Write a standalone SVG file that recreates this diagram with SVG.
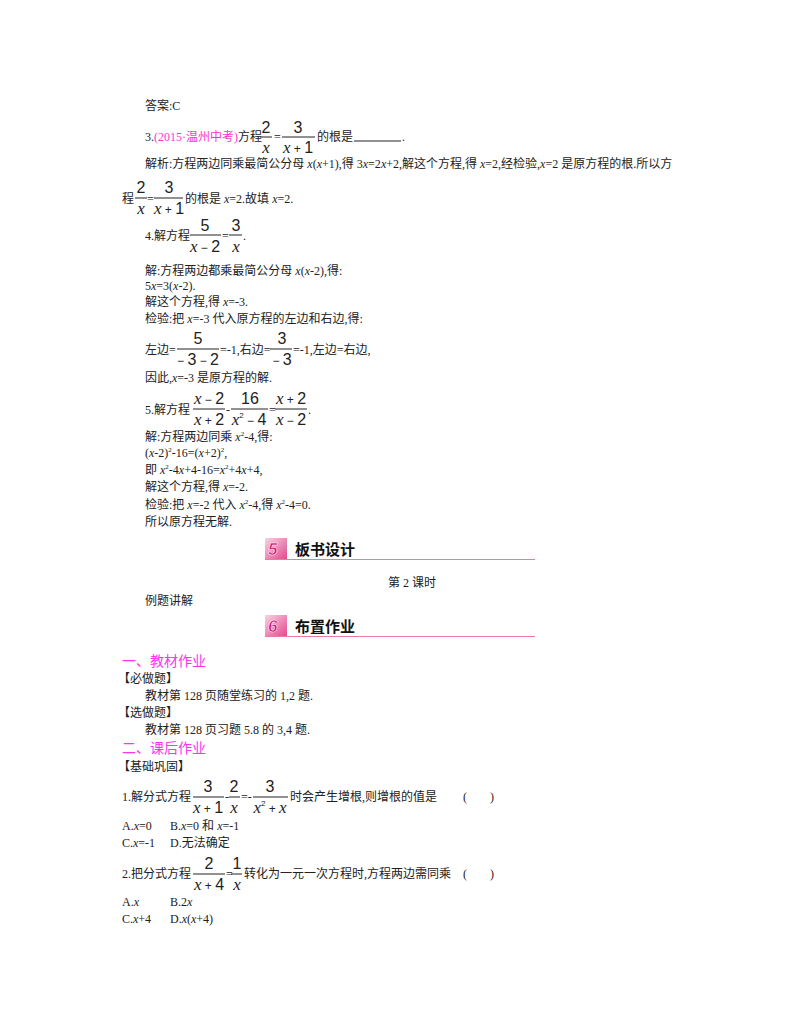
<svg xmlns="http://www.w3.org/2000/svg" width="800" height="1028" viewBox="0 0 800 1028">
<style>
text{font-family:"Liberation Serif","Noto Sans CJK SC",serif;font-size:12px;fill:#222}
.f{font-family:"Liberation Sans","Noto Sans CJK SC",sans-serif;font-size:16px}
.x{font-family:"Liberation Serif",serif;font-style:italic;font-size:17px}
.o{font-size:12px}
.m{fill:#ff33cc}
.h{font-family:"Noto Sans CJK SC",sans-serif;font-size:15px;font-weight:bold;fill:#111}
.s{font-family:"Noto Sans CJK SC",sans-serif;font-size:14px;fill:#ff33ee}
.n{font-family:"Liberation Sans",sans-serif;font-size:17px;font-weight:bold;font-style:italic;fill:#c8107a;stroke:#fff;stroke-width:0.5}
line.b{stroke:#222;stroke-width:1}
line.p{stroke:#e87aa8;stroke-width:1}
</style>
<defs>
<linearGradient id="g" x1="0" y1="0" x2="1" y2="1"><stop offset="0" stop-color="#fbd3e4"/><stop offset="1" stop-color="#e4488c"/></linearGradient>
</defs>
<rect width="800" height="1028" fill="#fff"/>
<g id="p1">
<text x="145" y="110">答案:C</text>
<text x="145" y="141">3.<tspan class="m">(2015·温州中考)</tspan>方程</text>
<text class="f" x="266" y="133" text-anchor="middle">2</text><line class="b" x1="260" y1="137" x2="272" y2="137"/><text class="f" x="266" y="153" text-anchor="middle"><tspan class="x">x</tspan></text>
<text x="274" y="141">=</text>
<text class="f" x="298" y="133" text-anchor="middle">3</text><line class="b" x1="282" y1="137" x2="315" y2="137"/><text class="f" x="298" y="153" text-anchor="middle"><tspan class="x">x</tspan><tspan class="o"> + </tspan>1</text>
<text x="317" y="141">的根是</text><line class="b" x1="354" y1="141" x2="401" y2="141"/><text x="402" y="141">.</text>
<text x="145" y="168">解析:方程两边同乘最简公分母 <tspan font-style="italic">x</tspan>(<tspan font-style="italic">x</tspan>+1),得 3<tspan font-style="italic">x</tspan>=2<tspan font-style="italic">x</tspan>+2,解这个方程,得 <tspan font-style="italic">x</tspan>=2,经检验,<tspan font-style="italic">x</tspan>=2 是原方程的根.所以方</text>
<text x="122" y="203">程</text>
<text class="f" x="141" y="193" text-anchor="middle">2</text><line class="b" x1="135" y1="198" x2="147" y2="198"/><text class="f" x="141" y="214" text-anchor="middle"><tspan class="x">x</tspan></text>
<text x="147" y="203">=</text>
<text class="f" x="169" y="193" text-anchor="middle">3</text><line class="b" x1="154" y1="198" x2="183" y2="198"/><text class="f" x="169" y="214" text-anchor="middle"><tspan class="x">x</tspan><tspan class="o"> + </tspan>1</text>
<text x="185" y="203">的根是 <tspan font-style="italic">x</tspan>=2.故填 <tspan font-style="italic">x</tspan>=2.</text>
</g>
<g id="p2">
<text x="145" y="240">4.解方程</text>
<text class="f" x="205" y="231" text-anchor="middle">5</text><line class="b" x1="190" y1="235" x2="221" y2="235"/><text class="f" x="205" y="252" text-anchor="middle"><tspan class="x">x</tspan><tspan class="o"> − </tspan>2</text>
<text x="222" y="240">=</text>
<text class="f" x="236" y="231" text-anchor="middle">3</text><line class="b" x1="229" y1="235" x2="242" y2="235"/><text class="f" x="236" y="252" text-anchor="middle"><tspan class="x">x</tspan></text>
<text x="243" y="240">.</text>
<text x="145" y="275">解:方程两边都乘最简公分母 <tspan font-style="italic">x</tspan>(<tspan font-style="italic">x</tspan>-2),得:</text>
<text x="145" y="290">5<tspan font-style="italic">x</tspan>=3(<tspan font-style="italic">x</tspan>-2).</text>
<text x="145" y="306">解这个方程,得 <tspan font-style="italic">x</tspan>=-3.</text>
<text x="145" y="323">检验:把 <tspan font-style="italic">x</tspan>=-3 代入原方程的左边和右边,得:</text>
<text x="145" y="354">左边=</text>
<text class="f" x="198" y="344" text-anchor="middle">5</text><line class="b" x1="177" y1="349" x2="219" y2="349"/><text class="f" x="198" y="365" text-anchor="middle"><tspan class="o">− </tspan>3<tspan class="o"> − </tspan>2</text>
<text x="220" y="354">=-1,右边=</text>
<text class="f" x="282" y="344" text-anchor="middle">3</text><line class="b" x1="270" y1="349" x2="292" y2="349"/><text class="f" x="282" y="365" text-anchor="middle"><tspan class="o">− </tspan>3</text>
<text x="293" y="354">=-1,左边=右边,</text>
<text x="145" y="382">因此,<tspan font-style="italic">x</tspan>=-3 是原方程的解.</text>
</g>
<g id="p3">
<text x="145" y="414">5.解方程</text>
<text class="f" x="209" y="404" text-anchor="middle"><tspan class="x">x</tspan><tspan class="o"> − </tspan>2</text><line class="b" x1="193" y1="409" x2="225" y2="409"/><text class="f" x="209" y="425" text-anchor="middle"><tspan class="x">x</tspan><tspan class="o"> + </tspan>2</text>
<text x="226" y="414">-</text>
<text class="f" x="250" y="404" text-anchor="middle">16</text><line class="b" x1="231" y1="409" x2="268" y2="409"/><text class="f" x="249" y="425" text-anchor="middle"><tspan class="x">x</tspan><tspan font-size="8" dy="-7">2</tspan><tspan class="o" dy="7"> − </tspan>4</text>
<text x="269" y="414">=</text>
<text class="f" x="291" y="404" text-anchor="middle"><tspan class="x">x</tspan><tspan class="o"> + </tspan>2</text><line class="b" x1="275" y1="409" x2="307" y2="409"/><text class="f" x="291" y="425" text-anchor="middle"><tspan class="x">x</tspan><tspan class="o"> − </tspan>2</text>
<text x="308" y="414">.</text>
<text x="145" y="441">解:方程两边同乘 <tspan font-style="italic">x</tspan><tspan font-size="7" dy="-5">2</tspan><tspan dy="5">-4,得:</tspan></text>
<text x="145" y="457">(<tspan font-style="italic">x</tspan>-2)<tspan font-size="7" dy="-5">2</tspan><tspan dy="5">-16=(</tspan><tspan font-style="italic">x</tspan>+2)<tspan font-size="7" dy="-5">2</tspan><tspan dy="5">,</tspan></text>
<text x="145" y="474">即 <tspan font-style="italic">x</tspan><tspan font-size="7" dy="-5">2</tspan><tspan dy="5">-4</tspan><tspan font-style="italic">x</tspan>+4-16=<tspan font-style="italic">x</tspan><tspan font-size="7" dy="-5">2</tspan><tspan dy="5">+4</tspan><tspan font-style="italic">x</tspan>+4,</text>
<text x="145" y="491">解这个方程,得 <tspan font-style="italic">x</tspan>=-2.</text>
<text x="145" y="509">检验:把 <tspan font-style="italic">x</tspan>=-2 代入 <tspan font-style="italic">x</tspan><tspan font-size="7" dy="-5">2</tspan><tspan dy="5">-4,得 </tspan><tspan font-style="italic">x</tspan><tspan font-size="7" dy="-5">2</tspan><tspan dy="5">-4=0.</tspan></text>
<text x="145" y="526">所以原方程无解.</text>
</g>
<g id="sec5">
<rect x="265" y="538" width="22" height="21" fill="url(#g)"/>
<text class="n" x="268" y="555">5</text>
<text class="h" x="295" y="555">板书设计</text>
<line class="p" x1="265" y1="559.5" x2="535" y2="559.5"/>
<text x="388" y="587">第 2 课时</text>
<text x="145" y="605">例题讲解</text>
</g>
<g id="sec6">
<rect x="265" y="615" width="22" height="21" fill="url(#g)"/>
<text class="n" x="268" y="632">6</text>
<text class="h" x="295" y="632">布置作业</text>
<line class="p" x1="265" y1="636.5" x2="535" y2="636.5"/>
<text class="s" x="122" y="666">一、教材作业</text>
<text x="118" y="683">【必做题】</text>
<text x="145" y="700">教材第 128 页随堂练习的 1,2 题.</text>
<text x="118" y="717">【选做题】</text>
<text x="145" y="734">教材第 128 页习题 5.8 的 3,4 题.</text>
<text class="s" x="122" y="753">二、课后作业</text>
<text x="118" y="771">【基础巩固】</text>
</g>
<g id="q1">
<text x="122" y="801">1.解分式方程</text>
<text class="f" x="208" y="792" text-anchor="middle">3</text><line class="b" x1="193" y1="797" x2="224" y2="797"/><text class="f" x="208" y="813" text-anchor="middle"><tspan class="x">x</tspan><tspan class="o"> + </tspan>1</text>
<text x="225" y="801">-</text>
<text class="f" x="234" y="792" text-anchor="middle">2</text><line class="b" x1="229" y1="797" x2="240" y2="797"/><text class="f" x="234" y="813" text-anchor="middle"><tspan class="x">x</tspan></text>
<text x="241" y="801">=-</text>
<text class="f" x="270" y="792" text-anchor="middle">3</text><line class="b" x1="253" y1="797" x2="288" y2="797"/><text class="f" x="270" y="813" text-anchor="middle"><tspan class="x">x</tspan><tspan font-size="8" dy="-7">2</tspan><tspan class="o" dy="7"> + </tspan><tspan class="x">x</tspan></text>
<text x="290" y="801">时会产生增根,则增根的值是</text>
<text x="463" y="801">(</text><text x="490" y="801">)</text>
<text x="122" y="830">A.<tspan font-style="italic">x</tspan>=0</text>
<text x="170" y="830">B.<tspan font-style="italic">x</tspan>=0 和 <tspan font-style="italic">x</tspan>=-1</text>
<text x="122" y="847">C.<tspan font-style="italic">x</tspan>=-1</text>
<text x="170" y="847">D.无法确定</text>
</g>
<g id="q2">
<text x="122" y="878">2.把分式方程</text>
<text class="f" x="209" y="869" text-anchor="middle">2</text><line class="b" x1="193" y1="874" x2="225" y2="874"/><text class="f" x="209" y="890" text-anchor="middle"><tspan class="x">x</tspan><tspan class="o"> + </tspan>4</text>
<text x="226" y="878">=</text>
<text class="f" x="237" y="869" text-anchor="middle">1</text><line class="b" x1="231" y1="874" x2="242" y2="874"/><text class="f" x="237" y="890" text-anchor="middle"><tspan class="x">x</tspan></text>
<text x="244" y="878">转化为一元一次方程时,方程两边需同乘</text>
<text x="463" y="878">(</text><text x="490" y="878">)</text>
<text x="122" y="906">A.<tspan font-style="italic">x</tspan></text>
<text x="170" y="906">B.2<tspan font-style="italic">x</tspan></text>
<text x="122" y="923">C.<tspan font-style="italic">x</tspan>+4</text>
<text x="170" y="923">D.<tspan font-style="italic">x</tspan>(<tspan font-style="italic">x</tspan>+4)</text>
</g>
</svg>
